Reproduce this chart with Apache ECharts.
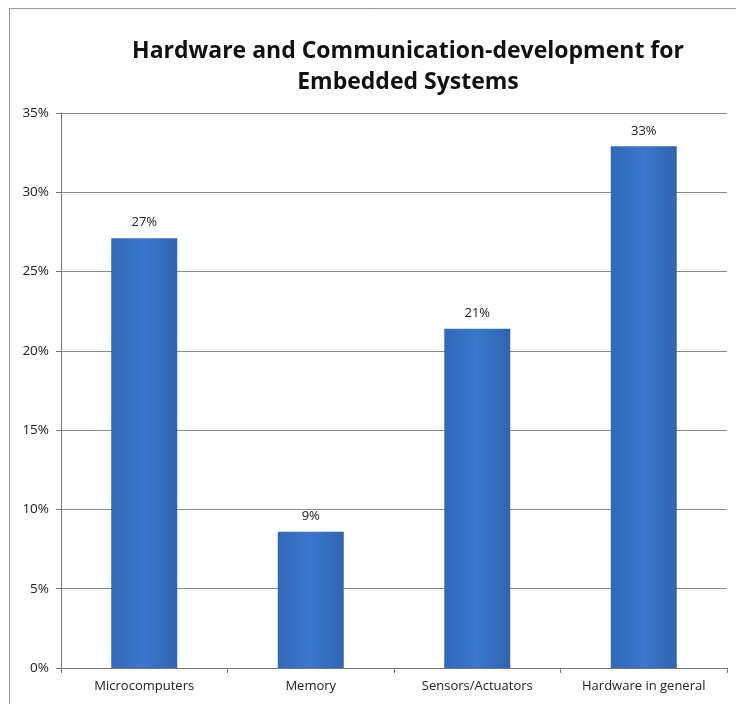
<!DOCTYPE html>
<html>
<head>
<meta charset="utf-8">
<script src="https://cdn.jsdelivr.net/npm/echarts@6/dist/echarts.min.js"></script>
<style>
  html, body { margin: 0; padding: 0; background: #fff; }
  #chart { width: 736px; height: 704px; }
</style>
</head>
<body>
<div id="chart"></div>
<script>
// data
const categories = ['Microcomputers', 'Memory', 'Sensors/Actuators', 'Hardware in general'];
const shares = [27.1, 8.6, 21.4, 32.9];
const yTicks = [0, 5, 10, 15, 20, 25, 30, 35];

const chart = echarts.init(document.getElementById('chart'));

// bar fill: only a little shading toward the edges
const barFill = new echarts.graphic.LinearGradient(0, 0, 1, 0, [
  { offset: 0, color: '#3168b8' },
  { offset: 0.5, color: '#3a78cc' },
  { offset: 1, color: '#2f64b0' }
]);

const option = {
  backgroundColor: '#fff',
  animation: false,
  title: {
    text: 'Hardware and Communication-development for\nEmbedded Systems',
    left: 403,
    top: 31,
    textAlign: 'center',
    textStyle: {
      fontFamily: 'Open Sans',
      fontWeight: 'bold',
      fontSize: 23,
      lineHeight: 31,
      color: '#111'
    }
  },
  grid: { left: 61, right: 9, top: 113, bottom: 36 },
  xAxis: {
    type: 'category',
    data: categories,
    axisLine: { lineStyle: { color: '#777', width: 1 } },
    axisTick: { show: true, interval: 0, length: 5, lineStyle: { color: '#777' } },
    axisLabel: { interval: 0, color: '#222', fontFamily: 'Open Sans', fontSize: 13, margin: 12 }
  },
  yAxis: {
    type: 'value',
    min: yTicks[0],
    max: yTicks[yTicks.length - 1],
    interval: 5,
    axisLine: { show: true, lineStyle: { color: '#777', width: 1 } },
    axisTick: { show: true, length: 5, lineStyle: { color: '#777' } },
    axisLabel: {
      color: '#222', fontFamily: 'Open Sans', fontSize: 13.5, margin: 12,
      formatter: v => v + '%'
    },
    splitLine: { lineStyle: { color: '#8a8a8a', width: 1 } }
  },
  series: [{
    type: 'bar',
    data: shares,
    barWidth: 66,
    itemStyle: { color: barFill },
    label: {
      show: true,
      position: 'top',
      distance: 9,
      color: '#222',
      fontFamily: 'Open Sans',
      fontSize: 13,
      formatter: p => Math.round(p.value) + '%'
    }
  }],
  graphic: [
    { type: 'line', shape: { x1: 9, y1: 8.5, x2: 736, y2: 8.5 }, style: { stroke: '#999', lineWidth: 1 } },
    { type: 'line', shape: { x1: 9.5, y1: 8, x2: 9.5, y2: 704 }, style: { stroke: '#999', lineWidth: 1 } }
  ]
};

chart.setOption(option);
</script>
</body>
</html>
